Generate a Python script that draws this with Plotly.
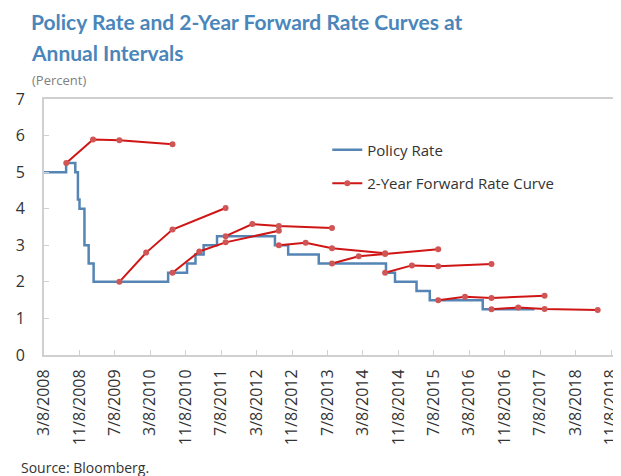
import pandas as pd
import plotly.graph_objects as go

# Policy rate: dates of changes and the new rate (last row closes the series)
policy_dates = ["2008-03-08", "2008-08-07", "2008-10-09", "2008-10-27", "2008-11-07",
                "2008-12-11", "2009-01-09", "2009-02-12", "2010-07-09", "2010-11-16",
                "2011-01-13", "2011-03-10", "2011-06-10", "2012-07-12", "2012-10-11",
                "2013-05-09", "2014-08-14", "2014-10-15", "2015-03-12", "2015-06-11",
                "2016-06-09", "2017-05-31"]
policy_rates = [5.00, 5.25, 5.00, 4.25, 4.00, 3.00, 2.50, 2.00, 2.25, 2.50,
                2.75, 3.00, 3.25, 3.00, 2.75, 2.50, 2.25, 2.00, 1.75, 1.50,
                1.25, 1.25]

# 2-year forward rate curves, one per year (spot, 6m, 1y, 2y)
curve_starts = ["2008-08-08", "2009-08-08", "2010-08-08", "2011-08-08", "2012-08-08",
                "2013-08-08", "2014-08-08", "2015-08-08", "2016-08-08"]
horizon_months = [0, 6, 12, 24]
curve_2008 = [5.25, 5.89, 5.87, 5.76]
curve_2009 = [2.00, 2.80, 3.43, 4.02]
curve_2010 = [2.25, 2.83, 3.08, 3.40]
curve_2011 = [3.25, 3.58, 3.53, 3.47]
curve_2012 = [3.00, 3.07, 2.92, 2.78]
curve_2013 = [2.50, 2.70, 2.76, 2.89]
curve_2014 = [2.25, 2.45, 2.43, 2.49]
curve_2015 = [1.50, 1.59, 1.56, 1.62]
curve_2016 = [1.25, 1.30, 1.26, 1.23]
curves = [curve_2008, curve_2009, curve_2010, curve_2011, curve_2012,
          curve_2013, curve_2014, curve_2015, curve_2016]

tick_dates = ["2008-03-08", "2008-11-08", "2009-07-08", "2010-03-08", "2010-11-08",
              "2011-07-08", "2012-03-08", "2012-11-08", "2013-07-08", "2014-03-08",
              "2014-11-08", "2015-07-08", "2016-03-08", "2016-11-08", "2017-07-08",
              "2018-03-08", "2018-11-08"]
tick_labels = ["3/8/2008", "11/8/2008", "7/8/2009", "3/8/2010", "11/8/2010",
               "7/8/2011", "3/8/2012", "11/8/2012", "7/8/2013", "3/8/2014",
               "11/8/2014", "7/8/2015", "3/8/2016", "11/8/2016", "7/8/2017",
               "3/8/2018", "11/8/2018"]

FONT = "Open Sans"
TEXT = "#333333"
TITLE_BLUE = "#4A86BA"

# join the forward curves into one trace, broken by gaps
fx, fy = [], []
for start, vals in zip(curve_starts, curves):
    s = pd.Timestamp(start)
    for m, v in zip(horizon_months, vals):
        fx.append(s + pd.DateOffset(months=m))
        fy.append(v)
    fx.append(None)
    fy.append(None)

fig = go.Figure()
fig.add_trace(go.Scatter(
    x=pd.to_datetime(policy_dates), y=policy_rates, mode="lines",
    line=dict(color="#5585B5", width=2.5, shape="hv"),
    name="Policy Rate", legendgroup="a"))
fig.add_trace(go.Scatter(
    x=fx, y=fy, mode="lines+markers", connectgaps=False,
    line=dict(color="#D01515", width=2),
    marker=dict(color="#D05555", size=6),
    name="2-Year Forward Rate Curve", legendgroup="b"))

# page body has an 8px margin, so the figure is laid out 8px up/left of the target
fig.update_layout(
    width=621, height=476,
    margin=dict(l=32, r=8, t=91, b=129),
    plot_bgcolor="white", paper_bgcolor="white",
    font=dict(family=FONT, color=TEXT, size=14),
    showlegend=True,
    legend=dict(x=0.497, y=0.865, xanchor="left", yanchor="top",
                bgcolor="rgba(0,0,0,0)", font=dict(size=15, color=TEXT),
                traceorder="grouped", tracegroupgap=11),
    xaxis=dict(range=["2008-03-08", "2018-11-28"], tickvals=pd.to_datetime(tick_dates),
               ticktext=tick_labels, tickangle=-90, showgrid=False,
               showline=True, linecolor="#D0D0D0", linewidth=2, mirror=True,
               ticks="inside", ticklen=5, tickcolor="#D0D0D0", tickwidth=1,
               tickfont=dict(size=16, color=TEXT), ticklabelstandoff=6, zeroline=False),
    yaxis=dict(range=[0, 7], dtick=1, showgrid=False,
               showline=True, linecolor="#D0D0D0", linewidth=2,
               ticks="inside", ticklen=5, tickcolor="#D0D0D0",
               tickfont=dict(size=16, color=TEXT), ticklabelstandoff=14, zeroline=False),
)

fig.add_annotation(xref="paper", yref="paper", x=-15 / 581, y=(355 - 21) / 256,
                   xanchor="left", yanchor="middle", showarrow=False,
                   text="<b>Policy Rate and 2-Year Forward Rate Curves at</b>",
                   font=dict(family="Lato", size=21, color=TITLE_BLUE))
fig.add_annotation(xref="paper", yref="paper", x=-15 / 581, y=(355 - 52) / 256,
                   xanchor="left", yanchor="middle", showarrow=False,
                   text="<b>Annual Intervals</b>",
                   font=dict(family="Lato", size=21, color=TITLE_BLUE))
fig.add_annotation(xref="paper", yref="paper", x=-14 / 581, y=(355 - 80) / 256,
                   xanchor="left", yanchor="middle", showarrow=False,
                   text="(Percent)", font=dict(family=FONT, size=13, color="#808080"))
fig.add_annotation(xref="paper", yref="paper", x=-25 / 581, y=(355 - 467) / 256,
                   xanchor="left", yanchor="middle", showarrow=False,
                   text="Source: Bloomberg.", font=dict(family=FONT, size=14, color=TEXT))

fig.write_html("out.html")
